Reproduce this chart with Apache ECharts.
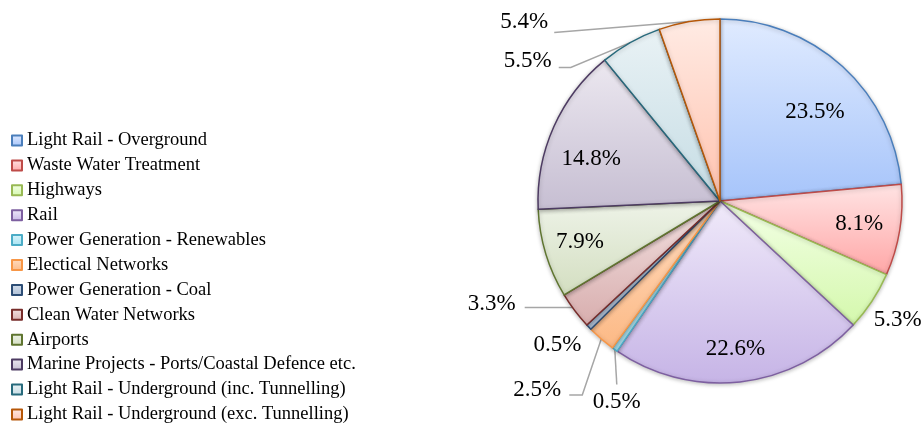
<!DOCTYPE html>
<html>
<head>
<meta charset="utf-8">
<script src="https://cdn.jsdelivr.net/npm/echarts@6/dist/echarts.min.js"></script>
<style>
html, body { margin: 0; padding: 0; background: #fff; }
#chart { width: 922px; height: 423px; }
</style>
</head>
<body>
<div id="chart"></div>
<script>
const categories = [
  'Light Rail - Overground',
  'Waste Water Treatment',
  'Highways',
  'Rail',
  'Power Generation - Renewables',
  'Electical Networks',
  'Power Generation - Coal',
  'Clean Water Networks',
  'Airports',
  'Marine Projects - Ports/Coastal Defence etc.',
  'Light Rail - Underground (inc. Tunnelling)',
  'Light Rail - Underground (exc. Tunnelling)'
];
const shares = [23.5, 8.1, 5.3, 22.6, 0.5, 2.5, 0.5, 3.3, 7.9, 14.8, 5.5, 5.4];

// colours (border, gradient top, gradient bottom)
const borderColors = ['#4a7ebb', '#be4b48', '#98b954', '#7d5fa0', '#4bacc6', '#f79646',
  '#2c4d75', '#772c2a', '#5f7530', '#4d3b62', '#276a7c', '#b65708'];
const fillTop = ['#e0ebff', '#ffe4e4', '#f3ffe6', '#f0eafa', '#d8f4fb', '#ffdcc0',
  '#d4dfec', '#f2e0e0', '#eef3e8', '#ece8f0', '#e9f2f5', '#ffebe4'];
const fillBottom = ['#a6c4fa', '#ffa6a6', '#d4f8ac', '#c6b4e6', '#a6e2f2', '#fcb985',
  '#aebfd6', '#d8aeae', '#d3dec0', '#c6bed2', '#c5dce4', '#ffc2ae'];

// outside labels with a leader line, from the slice edge:
// [bend dx, bend dy, horizontal run, label dx, label dy]
const leaders = {
  4: [2, 35, 0, 0, 17],
  5: [-19, 56, -13, -32, -5],
  7: [0, -3, -50, -33, -4],
  10: [-60, 25, -12, -31, -6],
  11: [-135, 11, 0, -30, -11]
};
// outside labels without a line: [length, length2, dx, dy]
const loose = {
  2: [25, -24, 0, 5],
  6: [20, -12, 0, 4]
};
// small nudges for the labels inside the slices
const insideShift = { 0: [0, 15], 3: [0, 8], 8: [-5, 0], 9: [0, 15] };

const font = 'Liberation Serif';
const isInside = (v) => v >= 7;
const fmt = (p) => p.value.toFixed(1) + '%';

const gradient = (i) => new echarts.graphic.LinearGradient(0, 0, 0, 1, [
  { offset: 0, color: fillTop[i] },
  { offset: 1, color: fillBottom[i] }
]);

const mainData = categories.map((name, i) => {
  const item = {
    name: name,
    value: shares[i],
    itemStyle: { color: gradient(i), borderColor: borderColors[i], borderWidth: 1.5 }
  };
  if (isInside(shares[i])) {
    item.label = { show: false };
    item.labelLine = { show: false };
  } else if (loose[i]) {
    item.label = { show: true };
    item.labelLine = { show: false, length: loose[i][0], length2: loose[i][1] };
  } else {
    item.label = { show: true };
    item.labelLine = { show: true, length: 10, length2: 10 };
  }
  return item;
});

const insideData = categories.map((name, i) => ({
  name: name,
  value: shares[i],
  label: { show: isInside(shares[i]) }
}));

const option = {
  animation: false,
  legend: {
    orient: 'vertical',
    left: 11,
    top: 131,
    height: 310,
    padding: 0,
    itemWidth: 10,
    itemHeight: 10,
    itemGap: 5.9,
    icon: 'rect',
    data: categories,
    textStyle: {
      fontFamily: font,
      fontSize: 18.5,
      lineHeight: 18,
      color: '#000'
    }
  },
  series: [
    {
      type: 'pie',
      center: [720, 201],
      radius: [0, 182],
      startAngle: 90,
      clockwise: true,
      avoidLabelOverlap: false,
      data: mainData,
      label: {
        position: 'outside',
        formatter: fmt,
        fontFamily: font,
        fontSize: 23,
        color: '#000',
        overflow: 'none'
      },
      labelLine: {
        lineStyle: { color: '#a6a6a6', width: 1.5 }
      },
      labelLayout: function (params) {
        const i = params.dataIndex;
        if (loose[i]) {
          return { dx: loose[i][2], dy: loose[i][3] };
        }
        const l = leaders[i];
        if (!l || !params.labelLinePoints) {
          return {};
        }
        const p0 = params.labelLinePoints[0];
        const p1 = [p0[0] + l[0], p0[1] + l[1]];
        const p2 = [p1[0] + l[2], p1[1]];
        return {
          x: p2[0] + l[3],
          y: p2[1] + l[4],
          align: 'center',
          verticalAlign: 'middle',
          labelLinePoints: [p0, p1, p2]
        };
      },
      itemStyle: {
        shadowBlur: 4,
        shadowColor: 'rgba(0,0,0,0.25)',
        shadowOffsetY: 1
      },
      emphasis: { disabled: true }
    },
    {
      // transparent ring used only to place the inside labels
      type: 'pie',
      center: [720, 201],
      radius: [94, 182],
      startAngle: 90,
      clockwise: true,
      silent: true,
      data: insideData,
      itemStyle: { color: 'rgba(0,0,0,0)', borderWidth: 0 },
      label: {
        position: 'inside',
        formatter: fmt,
        fontFamily: font,
        fontSize: 23,
        color: '#000'
      },
      labelLine: { show: false },
      labelLayout: function (params) {
        const s = insideShift[params.dataIndex];
        return s ? { dx: s[0], dy: s[1] } : {};
      },
      emphasis: { disabled: true }
    }
  ]
};

const myChart = echarts.init(document.getElementById('chart'));
myChart.setOption(option);
</script>
</body>
</html>
